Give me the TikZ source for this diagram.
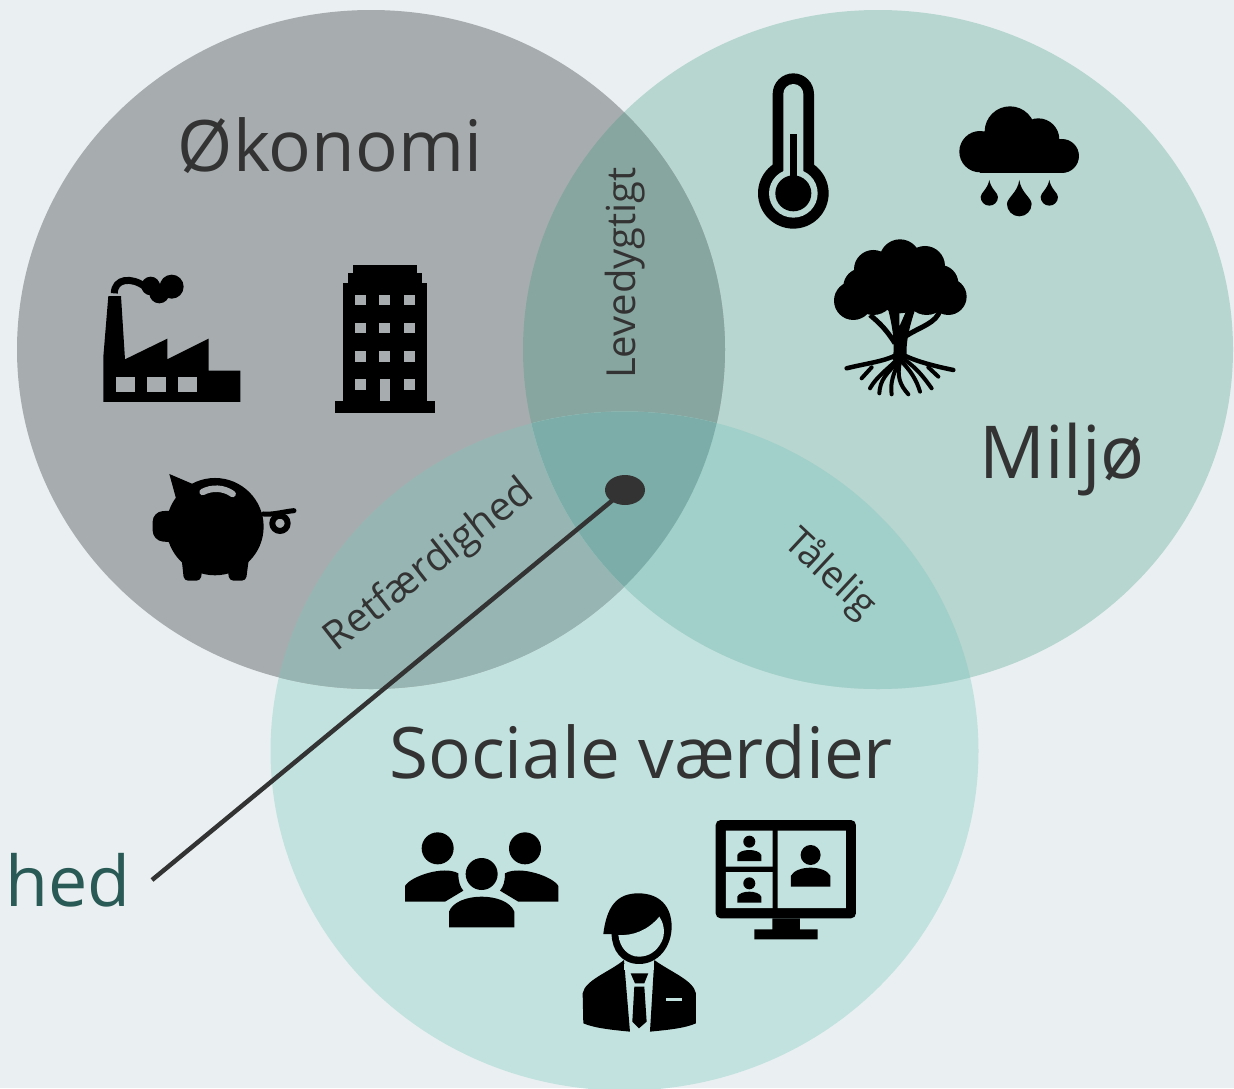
\documentclass[tikz,border=0pt]{standalone}
\usepackage{fontspec}
\usetikzlibrary{shapes.geometric}
\setmainfont{Open Sans}
\definecolor{bgc}{HTML}{EAF0F2}
\definecolor{econ}{HTML}{A7ADAF}
\definecolor{envi}{HTML}{B6D6CF}
\definecolor{soci}{HTML}{C2E2DF}
\definecolor{econenv}{HTML}{88A6A0}
\definecolor{econsoc}{HTML}{97B6B3}
\definecolor{envsoc}{HTML}{A0D0C9}
\definecolor{allthree}{HTML}{7DADA8}
\definecolor{inkc}{HTML}{333333}
\definecolor{hedc}{HTML}{2A5A55}
\tikzset{
  big/.style={text=inkc,font=\fontsize{71}{80}\selectfont,inner sep=0pt},
  small/.style={text=inkc,font=\fontsize{40}{46}\selectfont,inner sep=0pt},
  icon/.style={fill=black,draw=none},
  z1/.style={shift={(90,250)},x=0.3333pt,y=-0.3333pt},
  z2/.style={shift={(740,60)},x=0.3333pt,y=-0.3333pt},
  z3/.style={shift={(400,810)},x=0.3333pt,y=-0.3333pt},
}
\newcommand{\EC}{(371,349.5) ellipse[x radius=354,y radius=339.5]}
\newcommand{\MC}{(878,349.5) ellipse[x radius=355,y radius=339.5]}
\newcommand{\SC}{(624.5,751) ellipse[x radius=354,y radius=339.5]}
\begin{document}
\begin{tikzpicture}[x=1pt,y=-1pt]
\useasboundingbox (0,0) rectangle (1234,1088);
\clip (0,0) rectangle (1234,1088);
\fill[bgc] (0,0) rectangle (1234,1088);
% circles
\fill[soci] \SC;
\fill[envi] \MC;
\fill[econ] \EC;
\begin{scope}\clip \EC; \fill[econenv] \MC; \fill[econsoc] \SC; \end{scope}
\begin{scope}\clip \MC; \fill[envsoc] \SC; \end{scope}
\begin{scope}\clip \EC; \clip \MC; \fill[allthree] \SC; \end{scope}

% factory
\begin{scope}[z1]
\fill[icon] (55,138)--(93,138)--(105,328)--(232,266)--(232,328)--(356,266)--(356,362)--(451,362)--(451,456)--(40,456)--(40,320)--cycle;
\foreach \a in {78,171,264}{\fill[econ] (\a,382) rectangle +(56,43);}
\draw[line width=7pt] (73,130) .. controls (73,85) and (125,80) .. (165,110);
\fill[icon] (182,108) circle[radius=28] (208,130) circle[radius=30] (245,110) circle[radius=36];
% building
\fill[icon] (736,452) rectangle (1034,488);
\fill[icon] (758,98) rectangle (1012,452);
\fill[icon] (773,68) rectangle (997,98);
\fill[icon] (789,44) rectangle (981,68);
\foreach \a in {794,868,943}{\foreach \b in {134,219,304}{\fill[econ] (\a,\b) rectangle +(33,31);}}
\fill[econ] (794,388) rectangle +(33,32);
\fill[econ] (943,388) rectangle +(33,32);
\fill[econ] (870,388) rectangle (901,452);
% pig
\fill[icon] (238,672)--(315,705)--(258,745)--cycle;
\fill[icon] (375,830) circle[radius=146];
\fill[icon,rounded corners=10pt] (188,785) -- (188,872) -- (280,880) -- (280,780) -- cycle;
\fill[icon,rounded corners=4pt] (272,900) -- (282,992) -- (332,992) -- (338,950) -- (412,950) -- (418,992) -- (468,992) -- (480,900) -- cycle;
\draw[econ,line width=6.5pt,line cap=round] (338,726) .. controls (365,712) and (400,712) .. (428,732);
\draw[line width=5pt,line cap=round] (520,792) .. controls (550,795) and (580,785) .. (612,782);
\draw[line width=6pt] (570,820) circle[radius=23];
\end{scope}

% thermometer
\begin{scope}[z2]
\fill[icon] (98,102) arc[start angle=180,end angle=360,radius=62] -- (222,330) -- (98,330) -- cycle;
\fill[icon] (160,400) circle[radius=106];
\fill[envi] (130,102) arc[start angle=180,end angle=360,radius=30] -- (190,350) -- (130,350) -- cycle;
\fill[envi] (160,400) circle[radius=73];
\fill[icon] (160,400) circle[radius=54];
\fill[icon] (150,222) rectangle (171,360);
% cloud
\fill[icon] (810,215) circle[radius=76] (895,238) circle[radius=63] (720,275) circle[radius=62] (966,288) circle[radius=51];
\fill[icon] (720,255) rectangle (966,338);
\foreach \x/\y/\r/\t in {748/411/26/360,928/411/26/360,838/432/37/360}{
  \fill[icon] (\x,\t) .. controls (\x+5,\y-\r+3) and (\x+\r,\y-\r/2) .. (\x+\r,\y)
     arc[start angle=0,end angle=180,radius=\r] .. controls (\x-\r,\y-\r/2) and (\x-5,\y-\r+3) .. (\x,\t) -- cycle;
}
% tree
\fill[icon] (480,600) circle[radius=62] (400,628) circle[radius=58] (555,618) circle[radius=60]
  (340,722) circle[radius=58] (625,710) circle[radius=55] (365,680) circle[radius=55] (600,670) circle[radius=55]
  (480,680) circle[radius=80] (400,700) circle[radius=65] (560,700) circle[radius=65];
\fill[icon] (458,900) .. controls (465,860) and (460,810) .. (445,750) -- (478,750) -- (478,800) -- (500,750) -- (525,750) .. controls (505,810) and (495,860) .. (502,900) -- cycle;
\draw[line width=5pt] (465,850) .. controls (440,810) and (420,790) .. (390,765);
\draw[line width=5pt] (495,830) .. controls (540,800) and (590,790) .. (600,750);
\begin{scope}[line cap=round]
\draw[line width=4.5pt] (320,925) .. controls (380,910) and (430,905) .. (470,885);
\draw[line width=4.5pt] (640,930) .. controls (590,920) and (530,905) .. (490,885);
\begin{scope}[line width=4pt]
\draw (365,955) -- (395,922);
\draw (390,985) .. controls (410,950) and (440,930) .. (470,900);
\draw (418,1000) .. controls (420,960) and (440,940) .. (475,905);
\draw (455,1003) .. controls (450,970) and (460,940) .. (478,905);
\draw (505,1003) .. controls (480,975) and (470,950) .. (480,905);
\draw (540,995) .. controls (530,960) and (510,930) .. (485,905);
\draw (575,985) .. controls (550,950) and (530,925) .. (495,900);
\draw (595,950) -- (565,922);
\end{scope}
\end{scope}
\end{scope}

% people
\begin{scope}[z3]
\fill[icon] (113,115) circle[radius=48] (375,115) circle[radius=48] (245,192) circle[radius=48];
\fill[icon] (15,275) -- (15,228) .. controls (30,200) and (130,165) .. (175,190) .. controls (175,215) and (180,230) .. (190,242) -- (135,275) -- cycle;
\fill[icon] (475,275) -- (475,228) .. controls (460,200) and (360,165) .. (315,190) .. controls (315,215) and (310,230) .. (300,242) -- (355,275) -- cycle;
\fill[icon] (147,352) -- (147,305) .. controls (170,245) and (320,245) .. (343,305) -- (343,352) -- cycle;
% monitor
\fill[icon,rounded corners=5pt] (947,30) rectangle (1368,325);
\fill[soci] (978,62) rectangle (1118,170) (978,186) rectangle (1118,294) (1133,62) rectangle (1338,294);
\fill[icon] (1117,325) rectangle (1200,358) (1063,358) rectangle (1253,388);
\foreach \d in {0,125}{
  \fill[icon] (1048,95+\d) circle[radius=18];
  \fill[icon] (1012,153+\d) -- (1012,135+\d) .. controls (1020,115+\d) and (1076,115+\d) .. (1084,135+\d) -- (1084,153+\d) -- cycle;
}
\fill[icon] (1232,135) circle[radius=30];
\fill[icon] (1173,230) -- (1173,197) .. controls (1190,165) and (1274,165) .. (1291,197) -- (1291,230) -- cycle;
% businessman
\fill[icon] (610,372) .. controls (620,290) and (650,250) .. (715,250) .. controls (780,250) and (815,290) .. (815,350)
  .. controls (815,410) and (775,462) .. (717,462) .. controls (665,462) and (635,420) .. (635,372) -- cycle;
\fill[soci] (655,375) .. controls (700,378) and (745,360) .. (778,320) .. controls (795,345) and (795,375) .. (785,395)
  .. controls (770,425) and (745,440) .. (717,440) .. controls (685,440) and (660,415) .. (655,375) -- cycle;
\fill[icon] (550,640) -- (548,550) .. controls (555,510) and (630,485) .. (672,450) -- (690,665) .. controls (640,660) and (585,655) .. (550,640) -- cycle;
\fill[icon] (888,640) -- (888,550) .. controls (880,510) and (810,485) .. (763,450) -- (750,665) .. controls (800,660) and (855,655) .. (888,640) -- cycle;
\fill[soci] (797,563) rectangle (845,573);
\fill[soci] (672,462) -- (763,462) -- (763,480) -- (672,480) -- cycle;
\fill[icon] (692,490) -- (745,490) -- (733,520) -- (705,520) -- cycle;
\fill[icon] (703,530) -- (733,530) -- (740,635) -- (717,655) -- (697,635) -- cycle;
\end{scope}

% labels
\node[big] (okonomi) at (330,146) {Økonomi};
\node[text=inkc,font=\fontsize{73}{80}\selectfont,inner sep=0pt] (miljo) at (1062,460) {Miljø};
\node[big] (sociale) at (641,752) {Sociale værdier};
\node[small,rotate=90] (levedygtigt) at (625,273) {Levedygtigt};
\node[small,rotate=38] (retfaerdighed) at (430,566) {Retfærdighed};
\node[text=inkc,font=\fontsize{38}{44}\selectfont,inner sep=0pt,rotate=-43] (talelig) at (830,574) {Tålelig};
\node[text=hedc,font=\fontsize{70}{80}\selectfont,inner sep=0pt,anchor=base west] (hed) at (5,906) {hed};
% leader
\node[ellipse,minimum width=40pt,minimum height=30pt,fill=inkc,inner sep=0pt] (dot) at (625,490) {};
\coordinate (leaderend) at (152,880);
\draw[inkc,line width=4.5pt] (dot.center) -- (leaderend);
\end{tikzpicture}
\end{document}
